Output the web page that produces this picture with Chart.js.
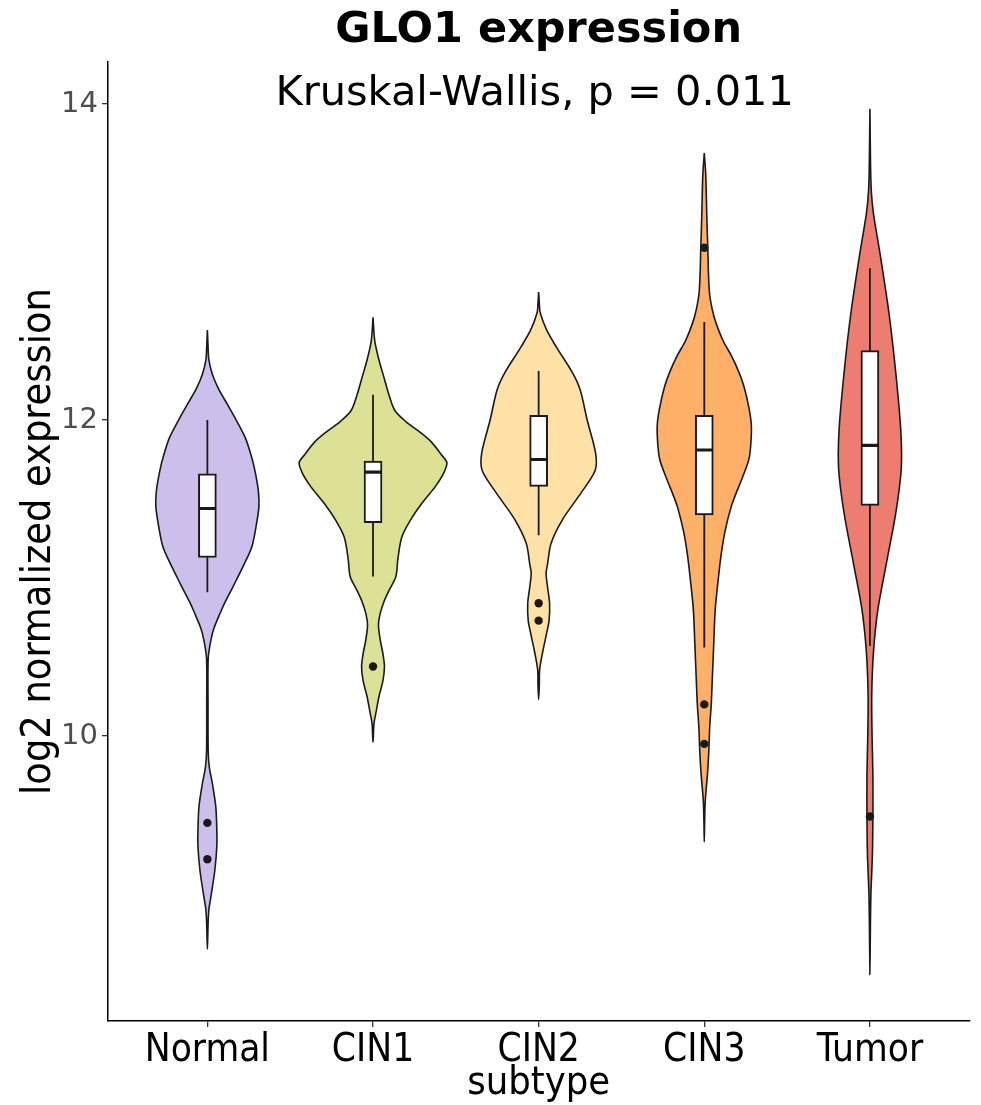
<!DOCTYPE html>
<html>
<head>
<meta charset="utf-8">
<script src="https://cdn.jsdelivr.net/npm/chart.js@4.4.1/dist/chart.umd.min.js"></script>
<style>
  html, body { margin: 0; padding: 0; background: #fff; }
</style>
</head>
<body>
<canvas id="violinChart" width="981" height="1105"></canvas>
<script>
const categories = ['Normal', 'CIN1', 'CIN2', 'CIN3', 'Tumor'];
const fillColors = ['#CDBFEC', '#DCE196', '#FEE1A6', '#FEAF68', '#EC7D70'];

// violin outlines: [log2 value, half width in category units], top to bottom
const normalDensity = [
  [12.57, 0], [12.47, 0.004], [12.38, 0.009], [12.29, 0.030], [12.20, 0.066], [12.10, 0.120],
  [12.00, 0.174], [11.89, 0.228], [11.78, 0.263], [11.68, 0.287], [11.55, 0.308], [11.45, 0.311],
  [11.32, 0.293], [11.20, 0.269], [11.10, 0.228], [10.96, 0.162], [10.85, 0.108], [10.78, 0.078],
  [10.68, 0.039], [10.60, 0.020], [10.49, 0.005], [10.20, 0.004], [9.90, 0.005], [9.80, 0.012],
  [9.70, 0.030], [9.55, 0.051], [9.40, 0.057], [9.30, 0.057], [9.15, 0.045], [9.00, 0.024],
  [8.90, 0.009], [8.80, 0.004], [8.65, 0]
];
const cin1Density = [
  [12.65, 0], [12.55, 0.006], [12.49, 0.012], [12.38, 0.036], [12.27, 0.066], [12.16, 0.096],
  [12.06, 0.132], [11.99, 0.198], [11.92, 0.287], [11.86, 0.353], [11.78, 0.413], [11.73, 0.446],
  [11.66, 0.425], [11.58, 0.377], [11.47, 0.293], [11.37, 0.228], [11.26, 0.174], [11.12, 0.150],
  [11.01, 0.138], [10.92, 0.096], [10.85, 0.066], [10.77, 0.042], [10.70, 0.033], [10.60, 0.045],
  [10.52, 0.060], [10.44, 0.069], [10.35, 0.060], [10.25, 0.036], [10.16, 0.020], [10.08, 0.006],
  [9.96, 0]
];
const cin2Density = [
  [12.81, 0], [12.74, 0.004], [12.68, 0.009], [12.57, 0.048], [12.46, 0.108], [12.30, 0.204],
  [12.19, 0.251], [12.00, 0.293], [11.79, 0.344], [11.68, 0.341], [11.54, 0.257], [11.37, 0.144],
  [11.22, 0.075], [11.09, 0.054], [11.03, 0.045], [10.94, 0.054], [10.84, 0.066], [10.73, 0.063],
  [10.65, 0.048], [10.53, 0.024], [10.42, 0.006], [10.32, 0.004], [10.23, 0]
];
const cin3Density = [
  [13.69, 0], [13.55, 0.009], [13.30, 0.015], [13.09, 0.021], [12.82, 0.030], [12.70, 0.048],
  [12.61, 0.072], [12.50, 0.114], [12.41, 0.162], [12.30, 0.210], [12.21, 0.240], [12.08, 0.269],
  [11.97, 0.284], [11.85, 0.281], [11.75, 0.269], [11.63, 0.228], [11.52, 0.186], [11.45, 0.162],
  [11.30, 0.126], [11.15, 0.102], [10.99, 0.084], [10.80, 0.066], [10.58, 0.057], [10.35, 0.048],
  [10.20, 0.042], [10.06, 0.033], [9.90, 0.027], [9.77, 0.020], [9.59, 0.006], [9.45, 0.002],
  [9.33, 0]
];
const tumorDensity = [
  [13.97, 0], [13.60, 0.004], [13.44, 0.009], [13.31, 0.021], [13.02, 0.066], [12.66, 0.117],
  [12.30, 0.156], [11.94, 0.186], [11.69, 0.189], [11.41, 0.156], [11.09, 0.099], [10.80, 0.048],
  [10.54, 0.022], [10.26, 0.011], [10.00, 0.013], [9.75, 0.018], [9.50, 0.018], [9.25, 0.015],
  [9.00, 0.006], [8.80, 0.003], [8.49, 0]
];
const densities = [normalDensity, cin1Density, cin2Density, cin3Density, tumorDensity];

// box plot statistics
const whiskerLow = [10.91, 11.01, 11.27, 10.56, 10.57];
const quartile1 = [11.13, 11.35, 11.58, 11.40, 11.46];
const medians = [11.44, 11.67, 11.75, 11.81, 11.84];
const quartile3 = [11.66, 11.74, 12.03, 12.03, 12.44];
const whiskerHigh = [12.00, 12.16, 12.31, 12.62, 12.96];

const outlierGroup = [1, 1, 2, 3, 3, 4, 4, 4, 5];
const outlierValues = [9.45, 9.22, 10.44, 10.84, 10.73, 13.09, 10.20, 9.95, 9.49];

const yTicks = [10, 12, 14];
const chartTitle = 'GLO1 expression';
const statLabel = 'Kruskal-Wallis, p = 0.011';
const statPos = { x: 3, y: 14 };

const axisFont = "'DejaVu Sans Condensed', 'Liberation Sans Narrow', 'DejaVu Sans', sans-serif";

function violinOutline(profile, center) {
  const right = profile.map(([v, w]) => ({ x: center + w, y: v }));
  const left = profile.slice(0, -1).reverse().map(([v, w]) => ({ x: center - w, y: v }));
  return right.concat(left);
}

// fill each violin under its outline, using the points Chart.js placed
const violinFill = {
  id: 'violinFill',
  beforeDatasetDraw(chart, args) {
    const ds = chart.data.datasets[args.index];
    if (!ds.violinColor) return;
    const meta = args.meta;
    const line = meta.dataset;
    const ctx = chart.ctx;
    const area = chart.chartArea;
    ctx.save();
    ctx.beginPath();
    ctx.rect(area.left, area.top, area.right - area.left, area.bottom - area.top);
    ctx.clip();
    ctx.beginPath();
    if (line && typeof line.path === 'function') {
      if (typeof line.updateControlPoints === 'function') {
        line.updateControlPoints(area, meta.iScale.axis);
      }
      line.path(ctx);
    } else {
      meta.data.forEach((p, i) => (i ? ctx.lineTo(p.x, p.y) : ctx.moveTo(p.x, p.y)));
    }
    ctx.closePath();
    ctx.fillStyle = ds.violinColor;
    ctx.fill();
    ctx.restore();
  }
};

const statText = {
  id: 'statText',
  afterDatasetsDraw(chart) {
    const ctx = chart.ctx;
    const x = chart.scales.x.getPixelForValue(statPos.x);
    const y = chart.scales.y.getPixelForValue(statPos.y);
    ctx.save();
    ctx.font = "41.5px 'DejaVu Sans', sans-serif";
    ctx.fillStyle = '#000';
    ctx.textAlign = 'center';
    ctx.textBaseline = 'alphabetic';
    ctx.fillText(statLabel, x - 4, y + 1);
    ctx.restore();
  }
};

const datasets = [];

densities.forEach((profile, i) => {
  datasets.push({
    type: 'line',
    data: violinOutline(profile, i + 1),
    violinColor: fillColors[i],
    borderColor: '#1a1a1a',
    borderWidth: 1.6,
    pointRadius: 0,
    pointHitRadius: 0,
    tension: 0.3,
    fill: false,
    order: 5
  });
});

categories.forEach((c, i) => {
  datasets.push({
    type: 'line',
    data: [{ x: i + 1, y: whiskerLow[i] }, { x: i + 1, y: whiskerHigh[i] }],
    borderColor: '#1a1a1a',
    borderWidth: 1.8,
    pointRadius: 0,
    fill: false,
    order: 4
  });
});

datasets.push({
  type: 'bar',
  data: categories.map((c, i) => ({ x: i + 1, y: [quartile1[i], quartile3[i]] })),
  backgroundColor: '#ffffff',
  borderColor: '#1a1a1a',
  borderWidth: 2,
  borderSkipped: false,
  barThickness: 18,
  order: 3
});

datasets.push({
  type: 'scatter',
  data: categories.map((c, i) => ({ x: i + 1, y: medians[i] })),
  pointStyle: 'line',
  pointRadius: 8.5,
  pointBorderWidth: 3.2,
  pointBorderColor: '#1a1a1a',
  order: 2
});

datasets.push({
  type: 'scatter',
  data: outlierValues.map((v, i) => ({ x: outlierGroup[i], y: v })),
  pointRadius: 4.2,
  pointBackgroundColor: '#1a1a1a',
  pointBorderWidth: 0,
  order: 1
});

new Chart(document.getElementById('violinChart').getContext('2d'), {
  type: 'scatter',
  data: { datasets },
  plugins: [violinFill, statText],
  options: {
    responsive: false,
    devicePixelRatio: 1,
    animation: false,
    events: [],
    layout: { padding: { left: 1, right: 5, top: 0, bottom: 0 } },
    plugins: {
      legend: { display: false },
      tooltip: { enabled: false },
      title: {
        display: true,
        text: chartTitle,
        fullSize: false,
        color: '#000',
        font: { family: "'DejaVu Sans', sans-serif", size: 43, weight: 'bold', lineHeight: 1.2 },
        padding: { top: 5, bottom: 5.4 }
      }
    },
    scales: {
      x: {
        type: 'linear',
        min: 0.4,
        max: 5.6,
        offset: false,
        afterBuildTicks: s => { s.ticks = categories.map((c, i) => ({ value: i + 1 })); },
        afterFit: s => { s.height = 84; },
        ticks: {
          autoSkip: false,
          maxRotation: 0,
          padding: 1,
          color: '#000',
          font: { family: axisFont, size: 38.5 },
          callback: v => categories[Math.round(v) - 1]
        },
        grid: { display: true, offset: false, drawOnChartArea: false, drawTicks: true, tickLength: 6, color: '#333', lineWidth: 1.3 },
        border: { display: true, color: '#000', width: 1.5 },
        title: {
          display: true,
          text: 'subtype',
          color: '#000',
          font: { family: axisFont, size: 39.5, lineHeight: 1.1 },
          padding: 0
        }
      },
      y: {
        type: 'linear',
        min: 8.196,
        max: 14.266,
        afterBuildTicks: s => { s.ticks = yTicks.map(v => ({ value: v })); },
        afterFit: s => { s.width = 107; },
        ticks: {
          padding: 4,
          color: '#4d4d4d',
          font: { family: "'DejaVu Sans', sans-serif", size: 29 }
        },
        grid: { display: true, offset: false, drawOnChartArea: false, drawTicks: true, tickLength: 6, color: '#333', lineWidth: 1.3 },
        border: { display: true, color: '#000', width: 1.5 },
        title: {
          display: true,
          text: 'log2 normalized expression',
          color: '#000',
          font: { family: axisFont, size: 41, lineHeight: 1.2 },
          padding: { top: 14, bottom: 0 }
        }
      }
    }
  }
});
</script>
</body>
</html>
